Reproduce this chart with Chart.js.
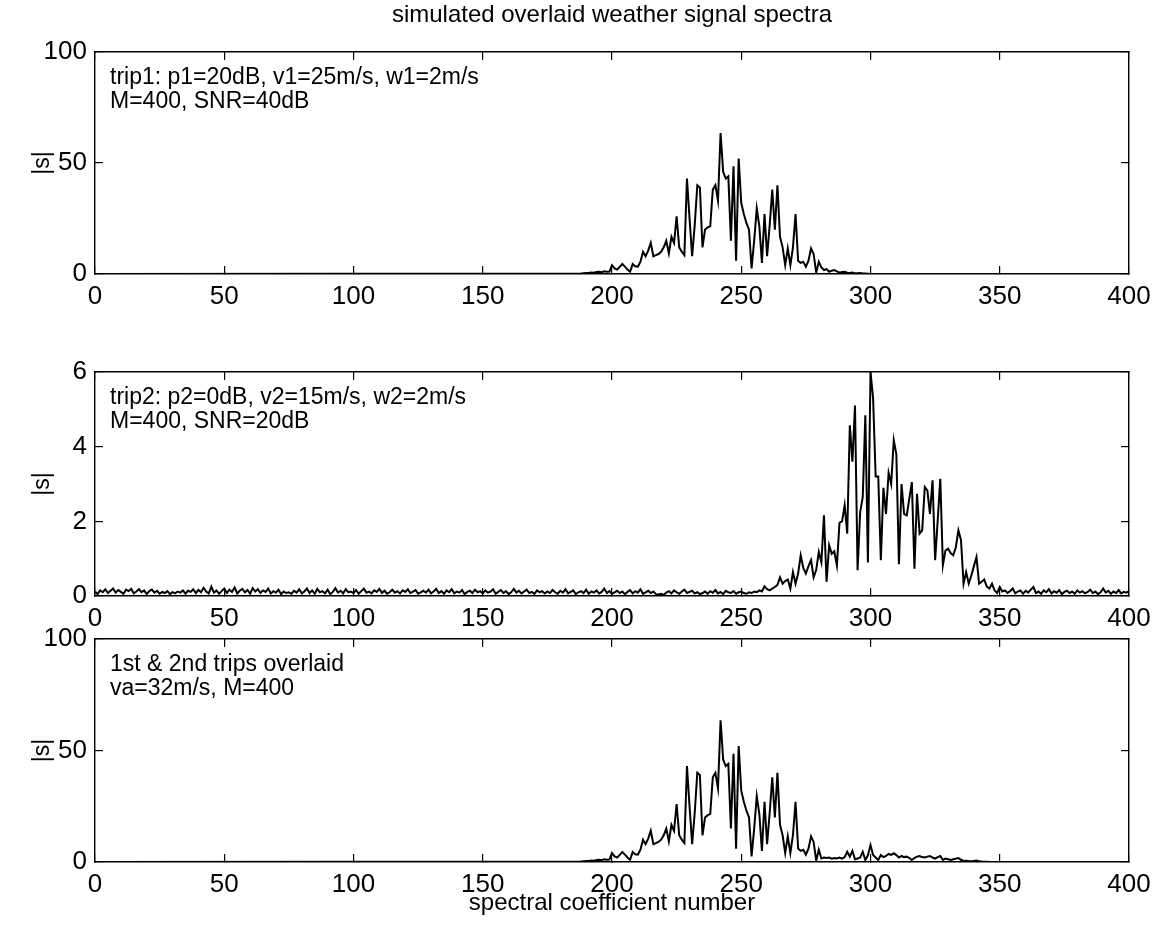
<!DOCTYPE html>
<html><head><meta charset="utf-8">
<script src="https://cdn.jsdelivr.net/npm/chart.js@4"></script>
<style>
html,body{margin:0;padding:0;background:#fff;}
#wrap{position:relative;width:1159px;height:933px;overflow:hidden;background:#fff;}
canvas{position:absolute;left:0;}
</style></head><body>
<div id="wrap">
<canvas id="c1" width="1159" height="320" style="top:0px"></canvas>
<canvas id="c2" width="1159" height="340" style="top:300px"></canvas>
<canvas id="c3" width="1159" height="333" style="top:600px"></canvas>
</div>
<script>
// ---------- data ----------
const xTicks = [0, 50, 100, 150, 200, 250, 300, 350, 400];
const coeffMin = 0, coeffMax = 400;

// trip 1 spectrum: zero outside the active band
const trip1First = 188;
const trip1Values = [
 0.2,0.3,0.4,0.5,0.7,0.6,0.9,1.0,0.8,1.2,1.0,1.1,            // 188-199
 4.0,2.5,2.0,3.2,4.5,3.3,2.0,1.0,4.5,3.5,                    // 200-209
 3.3,5.5,10.0,8.0,10.5,14.0,8.0,8.5,9.0,10.0,                // 210-219
 12.0,15.0,9.3,16.7,14.0,26.0,12.0,10.0,8.5,43.0,            // 220-229
 25.0,8.0,22.0,40.0,39.0,12.0,20.0,21.0,21.5,38.0,           // 230-239
 40.0,33.0,63.5,46.0,43.0,44.0,15.0,48.5,6.0,52.0,           // 240-249
 32.0,27.0,23.0,20.0,2.5,15.0,29.5,21.5,5.0,27.0,            // 250-259
 8.0,22.0,38.0,20.0,40.0,16.7,12.0,4.0,11.5,4.0,             // 260-269
 12.0,27.0,6.0,5.0,5.5,3.3,6.0,11.5,9.0,0.6,                 // 270-279
 5.5,3.0,1.8,2.2,1.0,1.5,1.8,1.2,0.6,0.9,                    // 280-289
 1.0,0.6,0.5,0.7,0.3,0.3,0.4,0.2,0.2,0.1,0.0                 // 290-300
];

// trip 2 spectrum, coefficients 0..400
const trip2Values = [
 0.12,0.05,0.15,0.10,0.18,0.08,0.14,0.20,0.09,0.16,0.11,0.06,0.17,0.13,0.19,0.07,0.12,0.18,0.10,0.15,0.05,0.13,0.17,0.09,0.14,
 0.06,0.11,0.08,0.13,0.05,0.10,0.07,0.12,0.09,0.15,0.06,0.14,0.11,0.18,0.08,0.16,0.10,0.22,0.12,0.07,0.25,0.09,0.15,0.06,0.13,
 0.20,0.08,0.17,0.11,0.23,0.07,0.14,0.19,0.10,0.16,0.06,0.21,0.12,0.18,0.08,0.15,0.11,0.20,0.07,0.13,0.09,0.17,0.05,0.12,0.08,
 0.10,0.06,0.14,0.09,0.18,0.07,0.12,0.20,0.08,0.15,0.06,0.19,0.10,0.13,0.07,0.17,0.05,0.11,0.21,0.09,0.14,0.07,0.18,0.10,0.12,
 0.08,0.16,0.06,0.13,0.20,0.09,0.12,0.07,0.15,0.11,0.19,0.08,0.14,0.06,0.10,0.17,0.09,0.13,0.07,0.15,0.11,0.18,0.08,0.12,0.16,
 0.06,0.10,0.14,0.09,0.17,0.07,0.12,0.19,0.08,0.13,0.06,0.15,0.10,0.18,0.07,0.12,0.09,0.16,0.05,0.11,0.14,0.08,0.17,0.10,0.13,
 0.07,0.15,0.09,0.12,0.18,0.06,0.11,0.16,0.08,0.13,0.05,0.10,0.19,0.09,0.14,0.07,0.12,0.17,0.08,0.11,0.06,0.15,0.10,0.13,0.07,
 0.12,0.08,0.16,0.10,0.06,0.14,0.09,0.18,0.07,0.11,0.15,0.05,0.10,0.13,0.08,0.17,0.06,0.12,0.09,0.15,0.07,0.11,0.20,0.08,0.13,
 0.06,0.10,0.14,0.08,0.12,0.05,0.11,0.16,0.07,0.13,0.09,0.18,0.06,0.10,0.14,0.08,0.12,0.05,0.04,0.06,0.03,0.09,0.13,0.07,0.15,
 0.10,0.06,0.12,0.17,0.08,0.11,0.14,0.07,0.10,0.05,0.08,0.12,0.06,0.13,0.09,0.16,0.07,0.11,0.05,0.14,0.10,0.08,0.13,0.06,0.10,
 0.12,0.08,0.06,0.10,0.08,0.12,0.10,0.15,0.12,0.26,0.18,0.15,0.20,0.24,0.30,0.50,0.33,0.40,0.44,0.20,0.64,0.33,0.60,1.09,0.75,
 0.60,0.80,0.96,0.50,0.70,1.18,0.90,2.16,0.38,1.36,1.13,1.20,0.82,1.96,2.00,2.43,1.67,4.57,3.60,5.10,0.69,2.25,2.65,4.84,0.90,
 6.00,5.30,3.20,3.20,0.96,2.90,2.20,3.30,3.00,4.17,3.80,0.85,3.00,2.20,2.16,2.60,3.05,0.73,2.74,1.67,1.76,2.92,2.83,2.20,3.10,
 0.96,2.03,3.14,0.82,1.22,1.27,1.15,1.09,1.30,1.76,1.50,0.33,0.64,0.33,0.55,0.80,1.04,0.33,0.38,0.44,0.25,0.20,0.33,0.15,0.08,
 0.24,0.12,0.15,0.08,0.13,0.20,0.07,0.12,0.15,0.06,0.14,0.09,0.17,0.24,0.08,0.12,0.06,0.15,0.10,0.18,0.07,0.13,0.09,0.16,0.05,
 0.11,0.14,0.08,0.12,0.06,0.15,0.09,0.13,0.07,0.11,0.17,0.08,0.12,0.05,0.10,0.20,0.09,0.14,0.06,0.12,0.08,0.16,0.07,0.11,0.09,
 0.13
];

// overlaid spectrum: zero outside the active band
const overlaidFirst = 188;
const overlaidValues = [
 0.2,0.3,0.4,0.5,0.7,0.6,0.9,1.0,0.8,1.2,1.0,1.1,            // 188-199
 4.0,2.5,2.0,3.2,4.5,3.3,2.0,1.0,4.5,3.5,                    // 200-209
 3.3,5.5,10.0,8.0,10.5,14.0,8.0,8.5,9.0,10.0,                // 210-219
 12.0,15.0,9.3,16.7,14.0,26.0,12.0,10.0,8.5,43.0,            // 220-229
 25.0,8.0,22.0,40.0,39.0,12.0,20.0,21.0,21.5,38.0,           // 230-239
 40.0,33.0,63.5,46.0,43.0,44.0,15.0,48.5,6.0,52.0,           // 240-249
 32.0,27.0,23.0,20.0,2.5,15.0,29.5,21.5,5.0,27.0,            // 250-259
 8.0,22.0,38.0,20.0,40.0,16.7,12.0,4.0,11.5,4.0,             // 260-269
 12.0,27.0,6.0,5.0,5.5,3.3,6.0,11.5,9.0,0.6,                 // 270-279
 5.5,1.6,2.0,1.8,2.0,1.5,1.8,1.6,2.0,1.5,                    // 280-289
 2.2,4.6,2.4,5.0,1.2,1.6,2.0,4.6,0.9,3.0,                    // 290-299
 7.6,3.1,2.0,0.9,3.1,2.2,2.7,3.6,3.2,3.9,                    // 300-309
 3.1,2.0,2.7,2.2,2.4,1.8,0.9,1.8,2.4,2.7,                    // 310-319
 2.2,2.0,2.4,2.7,2.0,1.5,2.2,2.7,0.9,1.5,                    // 320-329
 1.2,0.9,1.2,1.5,1.8,1.0,0.45,0.6,0.4,0.3,                   // 330-339
 0.5,0.7,0.3,0.2,0.15,0.1,0.0                                // 340-346
];

const titleText = 'simulated overlaid weather signal spectra';
const xAxisTitle = 'spectral coefficient number';
const yAxisTitle = '|s|';
const notes1 = ['trip1: p1=20dB, v1=25m/s, w1=2m/s', 'M=400, SNR=40dB'];
const notes2 = ['trip2: p2=0dB, v2=15m/s, w2=2m/s', 'M=400, SNR=20dB'];
const notes3 = ['1st & 2nd trips overlaid', 'va=32m/s, M=400'];

// ---------- helpers ----------
function bandPoints(first, values) {
  const pts = [{x: coeffMin, y: 0}];
  values.forEach((v, i) => pts.push({x: first + i, y: v}));
  pts.push({x: coeffMax, y: 0});
  return pts;
}
function fullPoints(values) {
  return values.map((v, i) => ({x: coeffMin + i, y: v}));
}

Chart.defaults.font.family = "'Liberation Sans', Arial, Helvetica, sans-serif";
Chart.defaults.color = '#000';
Chart.defaults.animation = false;

const FONT_TICK = 26, FONT_TEXT = 23, FONT_TITLE = 24;

const notesPlugin = {
  id: 'notes',
  afterDraw(chart, args, opts) {
    const {ctx, chartArea} = chart;
    ctx.save();
    ctx.fillStyle = '#000';
    ctx.font = FONT_TEXT + "px 'Liberation Sans', Arial, sans-serif";
    ctx.textAlign = 'left';
    ctx.textBaseline = 'alphabetic';
    (opts.lines || []).forEach((t, i) => {
      ctx.fillText(t, chartArea.left + 15, chartArea.top + 32 + i * 24);
    });
    ctx.restore();
  }
};

function gridOpts() {
  return {drawOnChartArea: false, drawTicks: true, tickLength: -8, color: '#000', lineWidth: 1.2};
}
function borderOpts() { return {display: true, color: '#000', width: 1.4}; }

function makeChart(id, points, yMax, yStep, cfg) {
  return new Chart(document.getElementById(id), {
    type: 'line',
    data: {datasets: [{
      data: points, xAxisID: 'x', yAxisID: 'y',
      borderColor: '#000', borderWidth: 2, pointRadius: 0, tension: 0, fill: false
    }]},
    plugins: [notesPlugin],
    options: {
      responsive: false,
      animation: false,
      layout: {autoPadding: false, padding: {left: 0, right: 30, top: cfg.padTop, bottom: 0}},
      plugins: {
        legend: {display: false},
        tooltip: {enabled: false},
        notes: {lines: cfg.notes},
        title: cfg.title ? {
          display: true, text: cfg.title, fullSize: false, color: '#000',
          font: {size: FONT_TITLE, weight: 'normal'}, padding: {top: 1, bottom: 22.2}
        } : {display: false}
      },
      scales: {
        x: {
          type: 'linear', position: 'bottom', min: coeffMin, max: coeffMax,
          afterBuildTicks(s) { s.ticks = xTicks.map(v => ({value: v})); },
          ticks: {autoSkip: false, maxRotation: 0, padding: 15, color: '#000', font: {size: FONT_TICK}},
          grid: gridOpts(), border: borderOpts(),
          title: cfg.xTitle ? {display: true, text: cfg.xTitle, color: '#000', font: {size: FONT_TITLE}, padding: {top: 0, bottom: 15}} : {display: false},
          afterFit(s) { s.height = cfg.xAxisH; s.paddingLeft = 0; s.paddingRight = 0; }
        },
        x2: {
          type: 'linear', position: 'top', min: coeffMin, max: coeffMax,
          afterBuildTicks(s) { s.ticks = xTicks.map(v => ({value: v})); },
          ticks: {display: false}, grid: gridOpts(), border: borderOpts(),
          afterFit(s) { s.height = 0; s.paddingLeft = 0; s.paddingRight = 0; }
        },
        y: {
          type: 'linear', position: 'left', min: 0, max: yMax,
          ticks: {stepSize: yStep, padding: 16, color: '#000', font: {size: FONT_TICK}},
          grid: gridOpts(), border: borderOpts(),
          title: {display: true, text: yAxisTitle, color: '#000', font: {size: FONT_TEXT}, padding: {top: 29, bottom: 0}},
          afterFit(s) { s.width = 95; }
        },
        y2: {
          type: 'linear', position: 'right', min: 0, max: yMax,
          ticks: {stepSize: yStep, display: false}, grid: gridOpts(), border: borderOpts(),
          afterFit(s) { s.width = 0; s.paddingTop = 0; s.paddingBottom = 0; }
        }
      }
    }
  });
}

makeChart('c1', bandPoints(trip1First, trip1Values), 100, 50,
  {padTop: 0, xAxisH: 46, title: titleText, notes: notes1});
makeChart('c2', fullPoints(trip2Values), 6, 2,
  {padTop: 72, xAxisH: 44, notes: notes2});
makeChart('c3', bandPoints(overlaidFirst, overlaidValues), 100, 50,
  {padTop: 39, xAxisH: 71, xTitle: xAxisTitle, notes: notes3});
</script>
</body></html>
